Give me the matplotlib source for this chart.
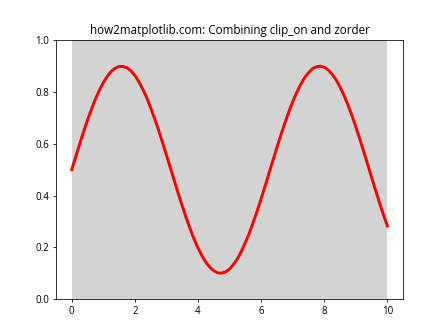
import matplotlib
matplotlib.use("Agg")
import matplotlib.pyplot as plt
import matplotlib.patches as patches

plt.rcParams['font.family'] = ['Open Sans', 'DejaVu Sans']

# curve values, step 0.125 along x
x_vals = [i * 0.125 for i in range(81)]
y_vals = [0.500, 0.550, 0.599, 0.647, 0.692, 0.734, 0.773, 0.807, 0.837, 0.861,
          0.880, 0.892, 0.899, 0.899, 0.894, 0.882, 0.864, 0.840, 0.811, 0.778,
          0.739, 0.697, 0.653, 0.605, 0.556, 0.507, 0.457, 0.407, 0.360, 0.314,
          0.271, 0.232, 0.197, 0.167, 0.142, 0.123, 0.109, 0.101, 0.100, 0.105,
          0.116, 0.134, 0.156, 0.185, 0.218, 0.255, 0.297, 0.341, 0.388, 0.437,
          0.487, 0.537, 0.586, 0.634, 0.680, 0.723, 0.763, 0.798, 0.829, 0.855,
          0.875, 0.890, 0.898, 0.900, 0.896, 0.885, 0.869, 0.847, 0.819, 0.787,
          0.750, 0.709, 0.665, 0.618, 0.570, 0.520, 0.470, 0.420, 0.372, 0.326,
          0.282]

# gray background box: x start, width, y start, height
box_x, box_w = 0, 10
box_y, box_h = 0, 1

fig, ax = plt.subplots(figsize=(6.4, 4.8), dpi=70)

rect = patches.Rectangle((box_x, box_y), box_w, box_h,
                         facecolor="lightgray", zorder=1)
ax.add_patch(rect)
ax.plot(x_vals, y_vals, color="red", linewidth=3, zorder=2, clip_on=False,
        solid_joinstyle="round")

ax.set_ylim(0, 1)
ax.set_title("how2matplotlib.com: Combining clip_on and zorder")

fig.savefig("out.png", dpi=70)
